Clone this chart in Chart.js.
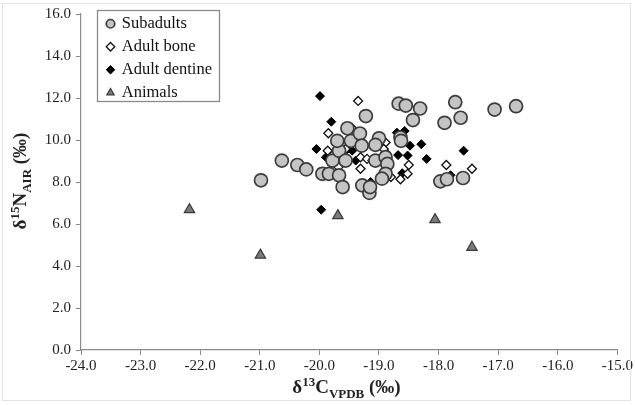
<!DOCTYPE html>
<html>
<head>
<meta charset="utf-8">
<script src="https://cdn.jsdelivr.net/npm/chart.js@4.4.1/dist/chart.umd.min.js"></script>
<style>
  html, body { margin: 0; padding: 0; background: #fff; }
  #wrap { position: relative; width: 635px; height: 405px; }
  #frame { position: absolute; left: 2px; top: 3px; width: 629px; height: 398px; border: 1px solid #e4e4e4; box-sizing: border-box; pointer-events: none; }
  canvas { position: absolute; left: 0; top: 0; }
  .ttl { position: absolute; font-family: "Liberation Serif", "DejaVu Serif", serif; font-weight: bold; font-size: 19px; color: #222; white-space: nowrap; }
  .ttl sup, .ttl sub { font-size: 13px; }
  #xt { left: 0; width: 635px; text-align: center; top: 374px; padding-left: 58px; box-sizing: border-box; }
  #yt { left: 21px; top: 181px; transform: translate(-50%, -50%) rotate(-90deg); }
</style>
</head>
<body>
<div id="wrap">
  <canvas id="c" width="635" height="405"></canvas>
  <div id="frame"></div>
  <div class="ttl" id="xt">δ<sup>13</sup>C<sub>VPDB</sub> (‰)</div>
  <div class="ttl" id="yt">δ<sup>15</sup>N<sub>AIR</sub> (‰)</div>
</div>
<script>
// ---- data ----
const seriesNames = ["Subadults", "Adult bone", "Adult dentine", "Animals"];

const subadultsC = [-20.98, -20.63, -20.37, -20.22, -19.95, -19.84, -19.67, -19.61, -19.78, -19.67,
  -19.70, -19.47, -19.53, -19.32, -19.29, -19.22, -19.56, -19.06, -19.00, -19.06,
  -18.89, -18.86, -18.89, -18.95, -19.28, -19.16, -19.15, -18.67, -18.55, -18.31,
  -18.43, -18.64, -18.63, -17.72, -17.90, -17.63, -17.06, -16.70, -17.97, -17.86, -17.59];
const subadultsN = [8.08, 9.02, 8.81, 8.60, 8.39, 8.39, 8.32, 7.76, 9.02, 9.49,
  9.96, 9.96, 10.56, 10.31, 9.73, 11.14, 9.02, 9.02, 10.08, 9.77,
  9.18, 8.86, 8.39, 8.16, 7.84, 7.48, 7.76, 11.73, 11.64, 11.50,
  10.95, 10.12, 9.96, 11.80, 10.82, 11.06, 11.45, 11.61, 8.03, 8.13, 8.19];

const boneC = [-19.35, -19.85, -19.45, -19.86, -19.68, -19.31, -19.20, -19.31, -18.89, -18.50,
  -18.52, -18.64, -17.87, -17.44, -18.80, -19.77, -18.89, -19.56, -19.72, -19.11, -18.92];
const boneN = [11.86, 10.32, 10.56, 9.49, 8.71, 9.18, 9.10, 8.63, 9.88, 8.81,
  8.39, 8.13, 8.81, 8.63, 8.24, 9.29, 9.41, 9.57, 9.18, 9.02, 9.57];

const dentineC = [-19.99, -19.80, -20.05, -19.89, -19.53, -19.45, -19.61, -19.39, -19.92, -19.00,
  -19.14, -18.70, -18.57, -18.48, -18.29, -18.52, -18.68, -18.20, -17.58, -18.61,
  -17.80, -19.97, -19.75, -19.04];
const dentineN = [12.09, 10.87, 9.57, 9.18, 9.57, 9.49, 9.18, 9.02, 8.47, 9.96,
  8.00, 10.35, 10.43, 9.73, 9.80, 9.26, 9.28, 9.10, 9.49, 8.42,
  8.32, 6.68, 9.20, 9.77];

const animalsC = [-22.18, -20.99, -19.69, -18.06, -17.44];
const animalsN = [6.68, 4.52, 6.40, 6.21, 4.89];

const xTicks = [-24, -23, -22, -21, -20, -19, -18, -17, -16, -15];
const yTicks = [0, 2, 4, 6, 8, 10, 12, 14, 16];

function pts(xs, ys) { return xs.map((x, i) => ({ x: x, y: ys[i] })); }

const serif = '"Liberation Serif", "DejaVu Serif", serif';
const LEG_DX = 20, LEG_DY = 9;

const legendShift = {
  id: 'legendShift',
  afterLayout(chart) {
    const lg = chart.legend;
    if (!lg || lg._shifted) return;
    const orig = lg.draw.bind(lg);
    lg.draw = function () {
      const ctx = chart.ctx;
      ctx.save();
      ctx.translate(LEG_DX, LEG_DY);
      orig();
      ctx.restore();
    };
    lg._shifted = true;
  },
  afterDraw(chart) {
    const lg = chart.legend;
    if (!lg || !lg.legendHitBoxes || !lg.legendHitBoxes.length) return;
    const hb = lg.legendHitBoxes;
    let l = Infinity, r = -Infinity;
    hb.forEach(h => { l = Math.min(l, h.left); r = Math.max(r, h.left + h.width); });
    const first = hb[0], last = hb[hb.length - 1];
    const top = first.top + first.height / 2 - 14 + LEG_DY;
    const bottom = last.top + last.height / 2 + 8 + LEG_DY;
    const left = l - 11 + LEG_DX;
    const right = r + 6 + LEG_DX;
    const ctx = chart.ctx;
    ctx.save();
    ctx.strokeStyle = '#8a8a8a';
    ctx.lineWidth = 1.3;
    ctx.strokeRect(Math.round(left) + 0.5, Math.round(top) + 0.5, Math.round(right - left), Math.round(bottom - top));
    ctx.restore();
  }
};

new Chart(document.getElementById('c'), {
  type: 'scatter',
  data: {
    datasets: [
      { label: seriesNames[0], data: pts(subadultsC, subadultsN), pointStyle: 'circle', pointRadius: 6.5,
        backgroundColor: '#c4c4c4', borderColor: '#3c3c3c', borderWidth: 1.7 },
      { label: seriesNames[1], data: pts(boneC, boneN), pointStyle: 'rectRot', pointRadius: 4.5,
        backgroundColor: '#ffffff', borderColor: '#111111', borderWidth: 1.3 },
      { label: seriesNames[2], data: pts(dentineC, dentineN), pointStyle: 'rectRot', pointRadius: 4.5,
        backgroundColor: '#000000', borderColor: '#000000', borderWidth: 1 },
      { label: seriesNames[3], data: pts(animalsC, animalsN), pointStyle: 'triangle', pointRadius: 6,
        backgroundColor: '#7a7a7a', borderColor: '#3a3a3a', borderWidth: 1.2 }
    ]
  },
  options: {
    responsive: false,
    animation: false,
    devicePixelRatio: 1,
    layout: { padding: { left: 0, right: 16, top: 10, bottom: 0 } },
    plugins: {
      tooltip: { enabled: false },
      legend: {
        position: 'chartArea',
        align: 'start',
        labels: {
          usePointStyle: true,
          boxWidth: 6, boxHeight: 6,
          padding: 6.5,
          color: '#111',
          font: { family: serif, size: 16.5 }
        }
      }
    },
    scales: {
      x: {
        type: 'linear', min: -24, max: -15,
        afterBuildTicks: (s) => { s.ticks = xTicks.map(v => ({ value: v })); },
        afterFit: (s) => { s.height = 55; },
        border: { color: '#8c8c8c', width: 1.2 },
        grid: { drawOnChartArea: false, drawTicks: true, tickLength: 5, color: '#8c8c8c' },
        ticks: { color: '#222', font: { family: serif, size: 15 }, padding: 2, maxRotation: 0,
          callback: (v) => Number(v).toFixed(1) },
        title: { display: false }
      },
      y: {
        type: 'linear', min: 0, max: 16,
        afterBuildTicks: (s) => { s.ticks = yTicks.map(v => ({ value: v })); },
        afterFit: (s) => { s.width = 81; },
        border: { color: '#8c8c8c', width: 1.2 },
        grid: { drawOnChartArea: false, drawTicks: true, tickLength: 5, color: '#8c8c8c' },
        ticks: { color: '#222', font: { family: serif, size: 15 }, padding: 5,
          callback: (v) => Number(v).toFixed(1) },
        title: { display: false }
      }
    }
  },
  plugins: [legendShift]
});
</script>
</body>
</html>
